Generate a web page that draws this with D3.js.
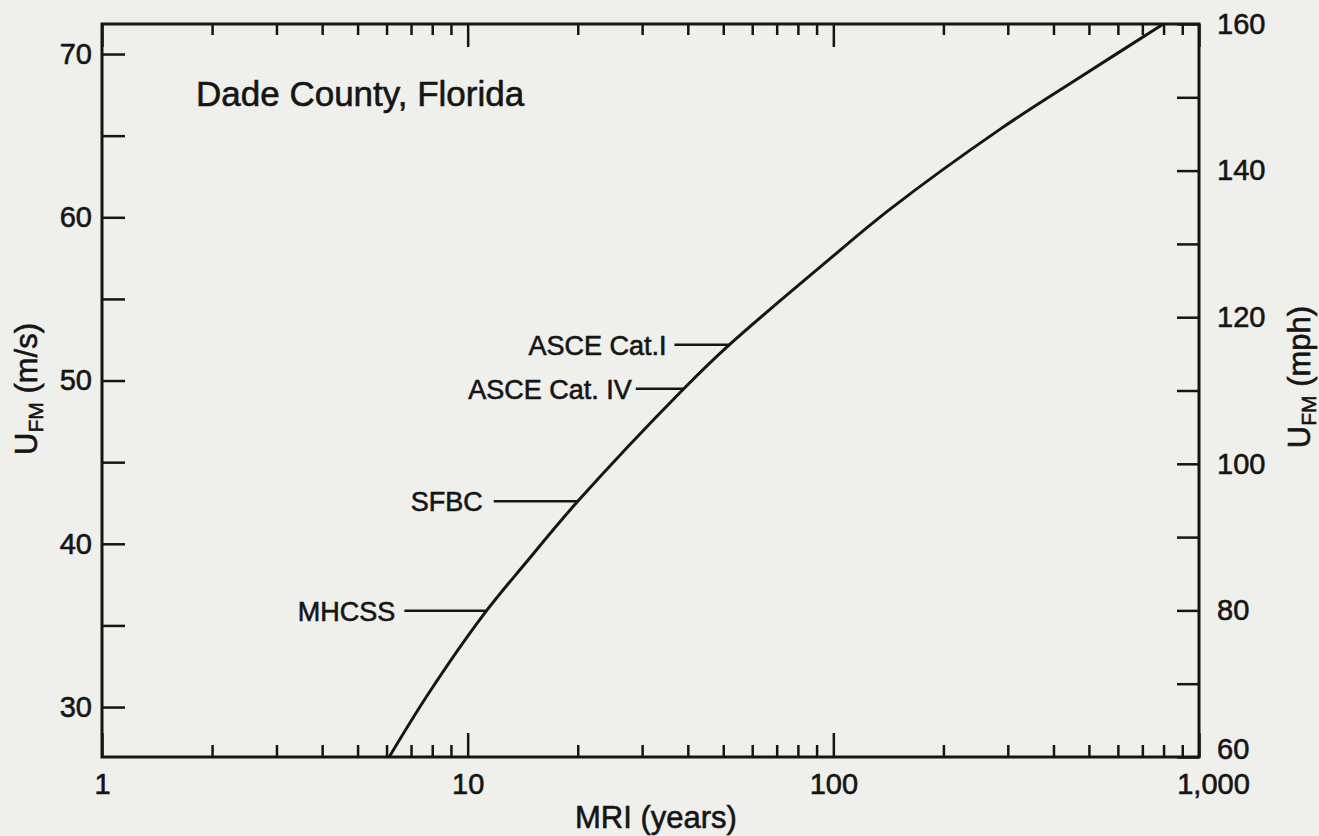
<!DOCTYPE html>
<html>
<head>
<meta charset="utf-8">
<script src="https://cdn.jsdelivr.net/npm/d3@7"></script>
<style>
  html, body { margin: 0; padding: 0; background: #efefeb; }
  svg { display: block; }
  text { font-family: "Liberation Sans", Arial, Helvetica, sans-serif; fill: #151515; stroke: #151515; stroke-width: 0.6px; }
</style>
</head>
<body>
<svg id="chart" width="1319" height="836"></svg>
<script>
// MRI (years) vs. fastest-mile wind speed (m/s)
const mriYears = [6.1, 7.8, 11, 14.5, 20, 39, 52, 96, 143, 286, 482, 797];
const speedMs  = [26.94, 30.8, 35.6, 38.9, 42.6, 49.5, 52.2, 57.3, 60.5, 65.4, 68.7, 71.82];

// code levels marked on the curve
const codeNames = ['MHCSS', 'SFBC', 'ASCE Cat. IV', 'ASCE Cat.I'];
const codeMri   = [11.25, 20, 39, 52];
const codeSpeed = [35.9, 42.6, 49.5, 52.2];

const xMajorTicks = [1, 10, 100, 1000];
const xTickLabels = ['1', '10', '100', '1,000'];
const leftTicks   = [30, 40, 50, 60, 70];
const rightTicks  = [60, 80, 100, 120, 140, 160];

const title = 'Dade County, Florida';

const svg = d3.select('#chart');
const margin = { top: 24, right: 120, bottom: 79, left: 102 };
const width = 1319 - margin.left - margin.right;
const height = 836 - margin.top - margin.bottom;

const g = svg.append('g').attr('transform', `translate(${margin.left},${margin.top})`);

const x = d3.scaleLog().domain([1, 1000]).range([0, width]);
const y = d3.scaleLinear().domain([26.94, 71.84]).range([height, 0]);
const yMph = d3.scaleLinear().domain([60, 160]).range([height, 0]);

const xMinor = [];
[1, 10, 100].forEach(d => { for (let k = 2; k <= 9; k++) xMinor.push(d * k); });
const leftAll = d3.range(30, 71, 5);
const rightAll = d3.range(60, 161, 10);

function styleAxis(sel) {
  sel.select('.domain').remove();
  sel.selectAll('line').attr('stroke', '#151515').attr('stroke-width', 2.5);
  sel.selectAll('text').style('font-size', '29px').attr('fill', '#151515');
}

// bottom axis
g.append('g').attr('transform', `translate(0,${height})`)
  .call(d3.axisBottom(x).tickValues(xMinor).tickSize(-12).tickFormat(''))
  .call(styleAxis);
const bottomMajor = g.append('g').attr('transform', `translate(0,${height})`)
  .call(d3.axisBottom(x).tickValues(xMajorTicks).tickSize(-24).tickPadding(16)
    .tickFormat((d, i) => xTickLabels[i]))
  .call(styleAxis);
bottomMajor.selectAll('.tick text').filter(d => d === 1000).attr('dx', 14);

// top axis (ticks only)
g.append('g')
  .call(d3.axisTop(x).tickValues(xMinor).tickSize(-11).tickFormat(''))
  .call(styleAxis);
g.append('g')
  .call(d3.axisTop(x).tickValues(xMajorTicks).tickSize(-23).tickFormat(''))
  .call(styleAxis);

// left axis
g.append('g')
  .call(d3.axisLeft(y).tickValues(leftAll).tickSize(-23).tickPadding(10)
    .tickFormat(d => leftTicks.includes(d) ? d : ''))
  .call(styleAxis);

// right axis
const rightAxis = g.append('g').attr('transform', `translate(${width},0)`)
  .call(d3.axisRight(yMph).tickValues(rightAll).tickSize(-22).tickPadding(18)
    .tickFormat(d => rightTicks.includes(d) ? d : ''))
  .call(styleAxis);
rightAxis.selectAll('.tick text').filter(d => d === 60).attr('y', -8);

// frame
g.append('rect')
  .attr('width', width).attr('height', height)
  .attr('fill', 'none').attr('stroke', '#151515').attr('stroke-width', 3);

// curve
const pts = mriYears.map((m, i) => [m, speedMs[i]]);
const line = d3.line().x(d => x(d[0])).y(d => y(d[1])).curve(d3.curveCatmullRom.alpha(0.5));
g.append('path').datum(pts)
  .attr('d', line)
  .attr('fill', 'none').attr('stroke', '#151515').attr('stroke-width', 3);

// code labels with leaders
const leadLen = { 'MHCSS': 82, 'SFBC': 84, 'ASCE Cat. IV': 48, 'ASCE Cat.I': 55 };
const leadGap = { 'MHCSS': 9, 'SFBC': 11, 'ASCE Cat. IV': 4, 'ASCE Cat.I': 8 };
codeNames.forEach((name, i) => {
  const cx = x(codeMri[i]);
  const cy = y(codeSpeed[i]);
  g.append('line')
    .attr('x1', cx - leadLen[name]).attr('x2', cx)
    .attr('y1', cy).attr('y2', cy)
    .attr('stroke', '#151515').attr('stroke-width', 2.5);
  g.append('text')
    .attr('x', cx - leadLen[name] - leadGap[name]).attr('y', cy + 10)
    .attr('text-anchor', 'end')
    .style('font-size', '27px')
    .text(name);
});

// title
g.append('text')
  .attr('x', 94).attr('y', 82)
  .style('font-size', '35px')
  .text(title);

// x axis label
svg.append('text')
  .attr('x', 656).attr('y', 828)
  .attr('text-anchor', 'middle')
  .style('font-size', '31px')
  .text('MRI (years)');

// y axis labels
function yLabel(cx, cy, unit) {
  const t = svg.append('text')
    .attr('transform', `translate(${cx},${cy}) rotate(-90)`)
    .attr('text-anchor', 'middle')
    .style('font-size', '31px');
  t.append('tspan').text('U');
  t.append('tspan').attr('dy', 6).style('font-size', '21px').text('FM');
  t.append('tspan').attr('dy', -6).text(` (${unit})`);
}
yLabel(37, 389, 'm/s');
yLabel(1310, 377, 'mph');
</script>
</body>
</html>
